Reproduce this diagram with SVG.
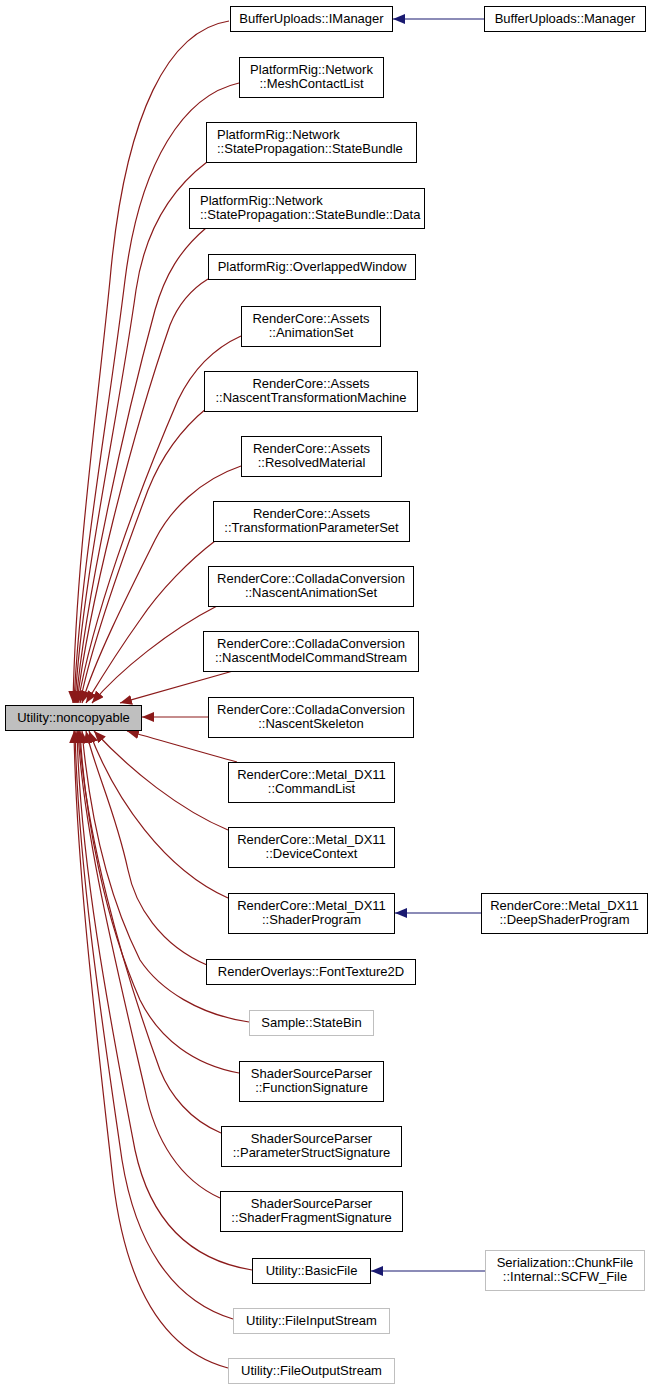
<svg xmlns="http://www.w3.org/2000/svg" width="653" height="1391" viewBox="0 0 653 1391">
<style>
.n rect{fill:#fff;stroke:#000;stroke-width:1}
.n.g rect{stroke:#bfbfbf}
.n.r rect{fill:#bfbfbf}
.n text{font-family:"Liberation Sans",Arial,sans-serif;font-size:13px;fill:#000;text-anchor:middle}
.n text.l{text-anchor:start}
.e path{fill:none;stroke:#8b1a1a;stroke-width:1.2;marker-end:url(#ar)}
.e path.b{stroke:#191970;marker-end:url(#ab)}
</style>
<defs>
<marker id="ar" markerUnits="userSpaceOnUse" markerWidth="13" markerHeight="10" refX="12" refY="5" orient="auto"><path d="M0,0 L12,5 L0,10 z" fill="#8b1a1a"/></marker>
<marker id="ab" markerUnits="userSpaceOnUse" markerWidth="13" markerHeight="10" refX="12" refY="5" orient="auto"><path d="M0,0 L12,5 L0,10 z" fill="#191970"/></marker>
</defs>
<rect width="653" height="1391" fill="#fff"/>
<g class="e">
<path d="M229,21 C170,30 125,110 110,280 C96,420 76,560 73,703"/>
<path d="M239,83 C185,95 140,160 125,280 C108,420 80,570 74,703"/>
<path d="M207,162 C170,190 145,230 136,290 C118,420 82,580 75,703"/>
<path d="M206,228 C180,250 165,275 155,310 C125,420 85,600 76,703"/>
<path d="M208,279 C190,290 178,305 170,325 C130,440 88,610 77,703"/>
<path d="M241,336 C210,350 190,375 178,400 C135,500 92,620 78,703"/>
<path d="M207,408 C180,430 160,460 148,490 C118,570 90,650 80,703"/>
<path d="M241,466 C200,480 170,510 155,540 C125,600 95,660 82,703"/>
<path d="M215,541 C190,560 160,590 140,620 C115,655 100,680 86,703"/>
<path d="M217,606 C170,630 120,670 92,703"/>
<path d="M233,671 C200,680 160,692 120,703"/>
<path d="M208,717 L142,717"/>
<path d="M237,762 C200,752 160,740 127,731"/>
<path d="M228,830 C180,810 130,770 94,731"/>
<path d="M228,898 C165,870 115,800 89,731"/>
<path d="M207,965 C160,945 135,905 128,870 C115,810 95,770 86,731"/>
<path d="M249,1022 C200,1015 160,990 140,960 C110,900 90,820 82,731"/>
<path d="M239,1073 C195,1065 160,1040 140,1000 C105,920 85,820 80,731"/>
<path d="M221,1133 C190,1120 170,1095 160,1070 C120,960 85,830 79,731"/>
<path d="M220,1198 C180,1180 155,1140 145,1090 C115,960 83,830 78,731"/>
<path d="M252,1270 C190,1260 150,1220 135,1150 C108,1010 80,860 77,731"/>
<path d="M233,1319 C170,1300 135,1240 122,1160 C100,1010 78,860 75,731"/>
<path d="M228,1368 C160,1350 125,1280 113,1180 C95,1020 76,860 74,731"/>
<path class="b" d="M484,19 L393,19"/>
<path class="b" d="M481,913 L395,913"/>
<path class="b" d="M485,1271 L371,1271"/>
</g>
<g id="noncopyable" class="n r"><rect x="5.5" y="705.5" width="136" height="25"/><text x="73.5" y="722">Utility::noncopyable</text></g>
<g id="IManager" class="n"><rect x="230.5" y="6.5" width="162" height="25"/><text x="311.5" y="23">BufferUploads::IManager</text></g>
<g id="Manager" class="n"><rect x="484.5" y="6.5" width="161" height="25"/><text x="565" y="23">BufferUploads::Manager</text></g>
<g id="MeshContactList" class="n"><rect x="239.5" y="57.5" width="144" height="40"/><text x="311.5" y="74">PlatformRig::Network</text><text x="311.5" y="88">::MeshContactList</text></g>
<g id="StateBundle" class="n"><rect x="206.5" y="122.5" width="210" height="40"/><text class="l" x="217" y="139">PlatformRig::Network</text><text class="l" x="217" y="153">::StatePropagation::StateBundle</text></g>
<g id="StateBundleData" class="n"><rect x="189.5" y="188.5" width="235" height="40"/><text class="l" x="200" y="205">PlatformRig::Network</text><text class="l" x="200" y="219">::StatePropagation::StateBundle::Data</text></g>
<g id="OverlappedWindow" class="n"><rect x="208.5" y="254.5" width="207" height="25"/><text x="312" y="271">PlatformRig::OverlappedWindow</text></g>
<g id="AnimationSet" class="n"><rect x="241.5" y="306.5" width="139" height="40"/><text x="311" y="323">RenderCore::Assets</text><text x="311" y="337">::AnimationSet</text></g>
<g id="NascentTransformationMachine" class="n"><rect x="204.5" y="371.5" width="213" height="40"/><text x="311" y="388">RenderCore::Assets</text><text x="311" y="402">::NascentTransformationMachine</text></g>
<g id="ResolvedMaterial" class="n"><rect x="241.5" y="436.5" width="140" height="40"/><text x="311.5" y="453">RenderCore::Assets</text><text x="311.5" y="467">::ResolvedMaterial</text></g>
<g id="TransformationParameterSet" class="n"><rect x="213.5" y="501.5" width="196" height="40"/><text x="311.5" y="518">RenderCore::Assets</text><text x="311.5" y="532">::TransformationParameterSet</text></g>
<g id="NascentAnimationSet" class="n"><rect x="208.5" y="566.5" width="205" height="40"/><text x="311" y="583">RenderCore::ColladaConversion</text><text x="311" y="597">::NascentAnimationSet</text></g>
<g id="NascentModelCommandStream" class="n"><rect x="203.5" y="631.5" width="215" height="40"/><text x="311" y="648">RenderCore::ColladaConversion</text><text x="311" y="662">::NascentModelCommandStream</text></g>
<g id="NascentSkeleton" class="n"><rect x="208.5" y="697.5" width="205" height="40"/><text x="311" y="714">RenderCore::ColladaConversion</text><text x="311" y="728">::NascentSkeleton</text></g>
<g id="CommandList" class="n"><rect x="228.5" y="762.5" width="166" height="40"/><text x="311.5" y="779">RenderCore::Metal_DX11</text><text x="311.5" y="793">::CommandList</text></g>
<g id="DeviceContext" class="n"><rect x="228.5" y="827.5" width="166" height="40"/><text x="311.5" y="844">RenderCore::Metal_DX11</text><text x="311.5" y="858">::DeviceContext</text></g>
<g id="ShaderProgram" class="n"><rect x="228.5" y="893.5" width="166" height="40"/><text x="311.5" y="910">RenderCore::Metal_DX11</text><text x="311.5" y="924">::ShaderProgram</text></g>
<g id="DeepShaderProgram" class="n"><rect x="481.5" y="893.5" width="166" height="40"/><text x="564.5" y="910">RenderCore::Metal_DX11</text><text x="564.5" y="924">::DeepShaderProgram</text></g>
<g id="FontTexture2D" class="n"><rect x="206.5" y="959.5" width="209" height="25"/><text x="311" y="976">RenderOverlays::FontTexture2D</text></g>
<g id="StateBin" class="n g"><rect x="249.5" y="1010.5" width="124" height="25"/><text x="311.5" y="1027">Sample::StateBin</text></g>
<g id="FunctionSignature" class="n"><rect x="239.5" y="1061.5" width="144" height="40"/><text x="311.5" y="1078">ShaderSourceParser</text><text x="311.5" y="1092">::FunctionSignature</text></g>
<g id="ParameterStructSignature" class="n"><rect x="221.5" y="1126.5" width="180" height="40"/><text x="311.5" y="1143">ShaderSourceParser</text><text x="311.5" y="1157">::ParameterStructSignature</text></g>
<g id="ShaderFragmentSignature" class="n"><rect x="220.5" y="1191.5" width="182" height="40"/><text x="311.5" y="1208">ShaderSourceParser</text><text x="311.5" y="1222">::ShaderFragmentSignature</text></g>
<g id="BasicFile" class="n"><rect x="252.5" y="1258.5" width="118" height="25"/><text x="311.5" y="1275">Utility::BasicFile</text></g>
<g id="SCFW_File" class="n g"><rect x="485.5" y="1250.5" width="159" height="40"/><text x="565" y="1267">Serialization::ChunkFile</text><text x="565" y="1281">::Internal::SCFW_File</text></g>
<g id="FileInputStream" class="n g"><rect x="233.5" y="1308.5" width="156" height="25"/><text x="311.5" y="1325">Utility::FileInputStream</text></g>
<g id="FileOutputStream" class="n g"><rect x="228.5" y="1358.5" width="166" height="25"/><text x="311.5" y="1375">Utility::FileOutputStream</text></g>
</svg>
